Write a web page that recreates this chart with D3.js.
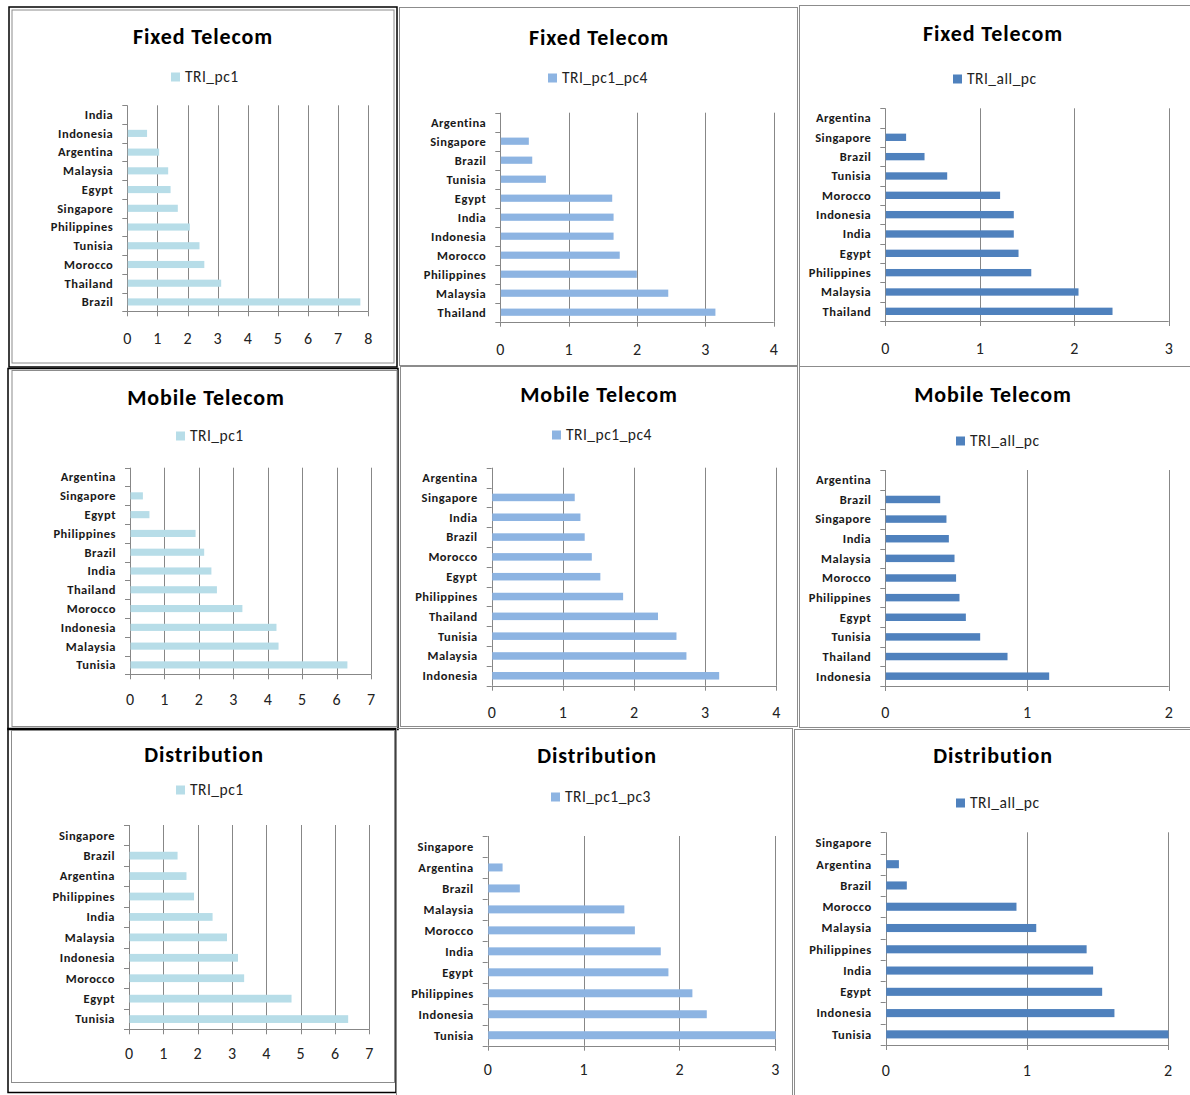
<!DOCTYPE html>
<html><head><meta charset="utf-8">
<script src="https://cdn.jsdelivr.net/npm/d3@7"></script>
<style>
html,body{margin:0;padding:0;background:#fff;}
svg{display:block;}
text{font-family:Carlito,Lato,"Open Sans",sans-serif;}
</style></head>
<body>
<svg id="chart" width="1190" height="1095"></svg>
<script>
// ---------- DATA ----------
const fixedPc1Countries = ["India","Indonesia","Argentina","Malaysia","Egypt","Singapore","Philippines","Tunisia","Morocco","Thailand","Brazil"];
const fixedPc1Values    = [0, 0.64, 1.04, 1.34, 1.42, 1.66, 2.06, 2.38, 2.54, 3.10, 7.72];

const fixedPc4Countries = ["Argentina","Singapore","Brazil","Tunisia","Egypt","India","Indonesia","Morocco","Philippines","Malaysia","Thailand"];
const fixedPc4Values    = [0, 0.41, 0.46, 0.66, 1.63, 1.65, 1.65, 1.74, 1.99, 2.45, 3.14];

const fixedAllCountries = ["Argentina","Singapore","Brazil","Tunisia","Morocco","Indonesia","India","Egypt","Philippines","Malaysia","Thailand"];
const fixedAllValues    = [0, 0.215, 0.41, 0.65, 1.21, 1.355, 1.355, 1.405, 1.54, 2.04, 2.40];

const mobilePc1Countries = ["Argentina","Singapore","Egypt","Philippines","Brazil","India","Thailand","Morocco","Indonesia","Malaysia","Tunisia"];
const mobilePc1Values    = [0, 0.36, 0.55, 1.89, 2.14, 2.35, 2.51, 3.25, 4.24, 4.30, 6.30];

const mobilePc4Countries = ["Argentina","Singapore","India","Brazil","Morocco","Egypt","Philippines","Thailand","Tunisia","Malaysia","Indonesia"];
const mobilePc4Values    = [0, 1.16, 1.24, 1.30, 1.40, 1.52, 1.84, 2.33, 2.59, 2.73, 3.19];

const mobileAllCountries = ["Argentina","Brazil","Singapore","India","Malaysia","Morocco","Philippines","Egypt","Tunisia","Thailand","Indonesia"];
const mobileAllValues    = [0, 0.384, 0.428, 0.445, 0.485, 0.496, 0.52, 0.565, 0.666, 0.859, 1.153];

const distPc1Countries = ["Singapore","Brazil","Argentina","Philippines","India","Malaysia","Indonesia","Morocco","Egypt","Tunisia"];
const distPc1Values    = [0, 1.40, 1.66, 1.88, 2.42, 2.84, 3.16, 3.34, 4.72, 6.37];

const distPc3Countries = ["Singapore","Argentina","Brazil","Malaysia","Morocco","India","Egypt","Philippines","Indonesia","Tunisia"];
const distPc3Values    = [0, 0.15, 0.33, 1.42, 1.53, 1.80, 1.88, 2.13, 2.28, 3.00];

const distAllCountries = ["Singapore","Argentina","Brazil","Morocco","Malaysia","Philippines","India","Egypt","Indonesia","Tunisia"];
const distAllValues    = [0, 0.09, 0.146, 0.923, 1.063, 1.42, 1.466, 1.53, 1.617, 2.00];

const titles = ["Fixed Telecom","Fixed Telecom","Fixed Telecom","Mobile Telecom","Mobile Telecom","Mobile Telecom","Distribution","Distribution","Distribution"];
const seriesNames = ["TRI_pc1","TRI_pc1_pc4","TRI_all_pc","TRI_pc1","TRI_pc1_pc4","TRI_all_pc","TRI_pc1","TRI_pc1_pc3","TRI_all_pc"];
const axisMax = [8,4,3,7,4,2,7,3,2];

// ---------- STYLE / LAYOUT ----------
const colorPc1 = "#B7DDE8", colorPc4 = "#8DB4E2", colorAll = "#4F81BD";
const colors = [colorPc1,colorPc4,colorAll,colorPc1,colorPc4,colorAll,colorPc1,colorPc4,colorAll];
const countriesList = [fixedPc1Countries,fixedPc4Countries,fixedAllCountries,mobilePc1Countries,mobilePc4Countries,mobileAllCountries,distPc1Countries,distPc3Countries,distAllCountries];
const valuesList = [fixedPc1Values,fixedPc4Values,fixedAllValues,mobilePc1Values,mobilePc4Values,mobileAllValues,distPc1Values,distPc3Values,distAllValues];

const layout = [
  {x0:127.3,x1:368.3,top:105.3,bottom:311.3,tickY:338,titleX:203,titleY:36,lx:171,ly:77},
  {x0:500.3,x1:773.7,top:112.7,bottom:321.7,tickY:349,titleX:599,titleY:37,lx:548,ly:78},
  {x0:885.3,x1:1168.7,top:108.3,bottom:321,tickY:348,titleX:993,titleY:33,lx:953,ly:79},
  {x0:130,x1:371,top:467.7,bottom:674.3,tickY:699,titleX:206,titleY:397,lx:176,ly:436},
  {x0:491.7,x1:776.3,top:467.7,bottom:685.7,tickY:712,titleX:599,titleY:394,lx:552,ly:435},
  {x0:885.3,x1:1168.7,top:470,bottom:686,tickY:712.7,titleX:993,titleY:394,lx:956,ly:441},
  {x0:129,x1:369.3,top:825,bottom:1029.3,tickY:1053,titleX:204,titleY:754,lx:176,ly:790},
  {x0:487.7,x1:775.3,top:836,bottom:1045.7,tickY:1069,titleX:597,titleY:755,lx:551,ly:797},
  {x0:885.7,x1:1168,top:832.3,bottom:1045,tickY:1070,titleX:993,titleY:755,lx:956,ly:803}
];

const svg = d3.select("#chart");

// ---------- FRAMES ----------
const frames = svg.append("g").attr("fill","none");
const gray = "#8c8c8c";
frames.append("rect").attr("x",9).attr("y",7).attr("width",388).attr("height",360).attr("stroke","#000").attr("stroke-width",1.5);
frames.append("rect").attr("x",12).attr("y",10).attr("width",382).attr("height",353).attr("stroke",gray);
frames.append("rect").attr("x",399.5).attr("y",7.5).attr("width",398).attr("height",358).attr("stroke",gray);
frames.append("rect").attr("x",799.5).attr("y",5.5).attr("width",395).attr("height",361).attr("stroke",gray);
frames.append("rect").attr("x",8).attr("y",368.5).attr("width",390).attr("height",361).attr("stroke","#000").attr("stroke-width",1.5);
frames.append("rect").attr("x",12).attr("y",370.5).attr("width",385).attr("height",356).attr("stroke",gray);
frames.append("rect").attr("x",400.5).attr("y",366.5).attr("width",397).attr("height",360).attr("stroke",gray);
frames.append("rect").attr("x",799.5).attr("y",366.5).attr("width",395).attr("height",361).attr("stroke",gray);
frames.append("rect").attr("x",8).attr("y",728.5).attr("width",388).attr("height",364).attr("stroke","#000").attr("stroke-width",1.5);
frames.append("rect").attr("x",11.5).attr("y",730.5).attr("width",383).attr("height",352).attr("stroke",gray);
frames.append("rect").attr("x",396.5).attr("y",728.5).attr("width",396).attr("height",380).attr("stroke",gray);
frames.append("rect").attr("x",794.5).attr("y",729.5).attr("width",400).attr("height",380).attr("stroke",gray);

// ---------- PANELS ----------
const gridColor = "#878787";
layout.forEach((L, i) => {
  const cats = countriesList[i], vals = valuesList[i];
  const g = svg.append("g");
  const x = d3.scaleLinear().domain([0, axisMax[i]]).range([L.x0, L.x1]);
  const p = 0.62;
  const y = d3.scaleBand().domain(cats).range([L.top, L.bottom]).paddingInner(p).paddingOuter(p/2);
  const off = (y.step() - y.bandwidth())/2;

  g.selectAll("line.grid").data(x.ticks(axisMax[i])).join("line")
    .attr("x1", d => Math.round(x(d))+0.5).attr("x2", d => Math.round(x(d))+0.5)
    .attr("y1", L.top).attr("y2", L.bottom)
    .attr("stroke", gridColor).attr("stroke-width", 1);

  g.append("line").attr("x1", L.x0).attr("x2", L.x1)
    .attr("y1", Math.round(L.bottom)+0.5).attr("y2", Math.round(L.bottom)+0.5)
    .attr("stroke", gridColor);
  g.selectAll("line.xt").data(x.ticks(axisMax[i])).join("line")
    .attr("x1", d => Math.round(x(d))+0.5).attr("x2", d => Math.round(x(d))+0.5)
    .attr("y1", L.bottom).attr("y2", L.bottom+5)
    .attr("stroke", gridColor);
  const bounds = cats.map(c => y(c) - off).concat([y(cats[cats.length-1]) - off + y.step()]);
  g.selectAll("line.yt").data(bounds).join("line")
    .attr("x1", L.x0-5).attr("x2", L.x0)
    .attr("y1", d => Math.round(d)+0.5).attr("y2", d => Math.round(d)+0.5)
    .attr("stroke", gridColor);

  g.selectAll("rect.bar").data(cats).join("rect")
    .attr("x", L.x0+0.5)
    .attr("y", c => y(c))
    .attr("width", (c, k) => Math.max(0, x(vals[k]) - L.x0))
    .attr("height", y.bandwidth())
    .attr("fill", colors[i]);

  g.selectAll("text.cat").data(cats).join("text")
    .attr("x", L.x0 - 14)
    .attr("y", c => y(c) + y.bandwidth()/2)
    .attr("dy", "0.35em")
    .attr("text-anchor", "end")
    .attr("font-size", 12.5).attr("font-weight", "bold").attr("letter-spacing", 0.5).attr("fill", "#1a1a1a")
    .text(c => c);

  g.selectAll("text.xl").data(x.ticks(axisMax[i])).join("text")
    .attr("x", d => x(d)).attr("y", L.tickY).attr("dy","0.35em")
    .attr("text-anchor","middle").attr("font-size",16).attr("fill","#222")
    .text(d => d);

  g.append("text").attr("x", L.titleX).attr("y", L.titleY).attr("dy","0.35em")
    .attr("text-anchor","middle").attr("font-size",22).attr("font-weight","bold").attr("letter-spacing",0.9).attr("fill","#000")
    .text(titles[i]);

  g.append("rect").attr("x", L.lx).attr("y", L.ly-4.5).attr("width",9).attr("height",9).attr("fill", colors[i]);
  g.append("text").attr("x", L.lx+14).attr("y", L.ly).attr("dy","0.35em")
    .attr("font-size",15.5).attr("letter-spacing",0.5).attr("fill","#222").text(seriesNames[i]);
});
</script>
</body></html>
